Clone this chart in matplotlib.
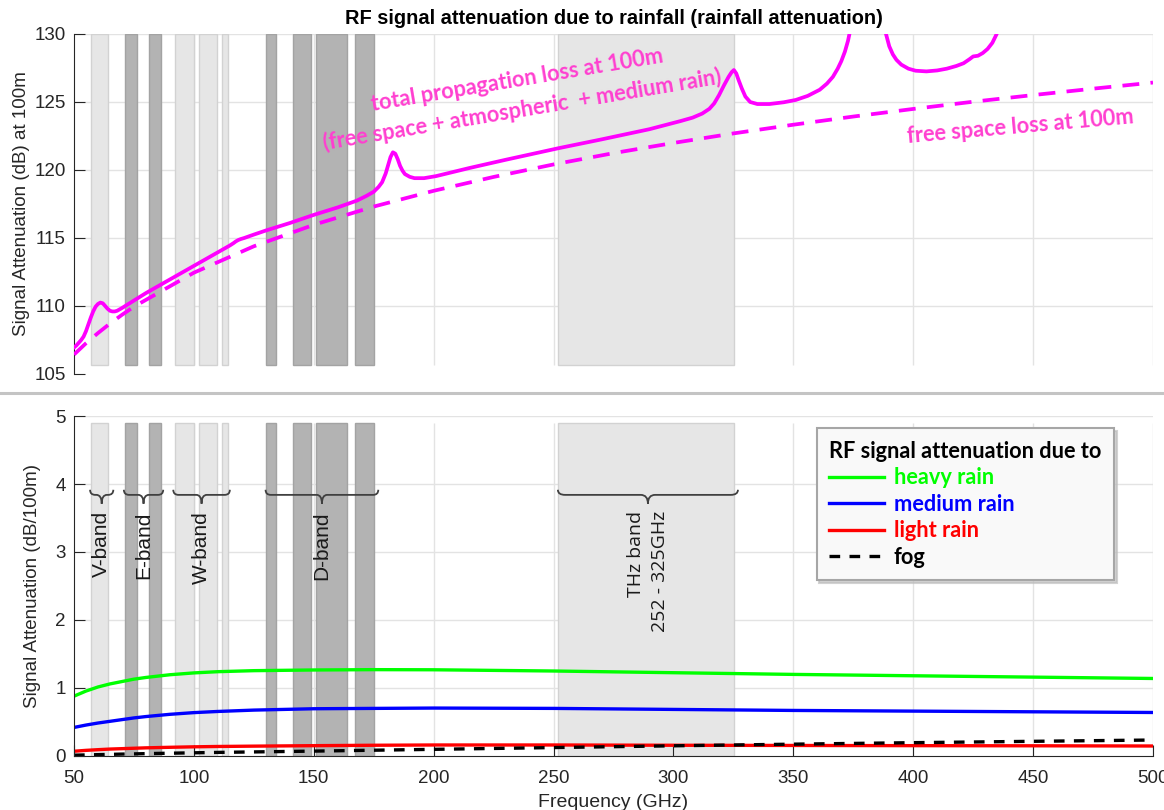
import numpy as np
import matplotlib.pyplot as plt
from matplotlib.path import Path
from matplotlib.patches import PathPatch
from matplotlib.lines import Line2D

# total propagation loss at 100 m (free space + atmospheric + medium rain)
freq_total = [50, 51, 52, 53, 54, 55, 56, 57, 58, 59, 60, 61, 62, 63, 64, 65, 66, 67, 68, 70,
              75, 80, 85, 90, 95, 100, 105, 110, 115, 116.5, 117.5, 118.5, 119.5, 121, 125,
              130, 140, 150, 160, 168, 172, 175, 177, 178.5, 180, 181, 182, 183, 184, 185,
              186, 187, 188, 190, 192, 196, 201, 215, 230, 252, 270, 290, 303, 308, 312, 315,
              317, 319, 321, 323, 324.3, 325.2, 326.2, 327.2, 328.5, 330, 332, 335, 340, 346,
              351, 356, 361, 364, 366.5, 368.5, 370, 371.5, 372.8, 374, 376, 380, 385, 387.5,
              388.8, 390, 391.5, 393, 395, 398, 401, 405.5, 410, 414, 418, 421, 423.5, 425,
              427, 429, 431, 433, 434.8, 437, 442, 448, 460, 480, 500]
loss_total = [106.95, 107.1, 107.3, 107.5, 107.75, 108.15, 108.65, 109.15, 109.6, 109.95,
              110.15, 110.25, 110.2, 110.0, 109.8, 109.65, 109.6, 109.6, 109.65, 109.85,
              110.4, 110.95, 111.45, 111.95, 112.45, 112.95, 113.45, 113.95, 114.45, 114.62,
              114.75, 114.85, 114.92, 115.0, 115.25, 115.55, 116.1, 116.7, 117.25, 117.75,
              118.1, 118.4, 118.75, 119.1, 119.75, 120.35, 120.95, 121.3, 121.2, 120.8,
              120.3, 119.95, 119.7, 119.5, 119.4, 119.4, 119.55, 120.15, 120.75, 121.6,
              122.25, 123.0, 123.6, 123.85, 124.15, 124.5, 124.9, 125.5, 126.2, 126.85,
              127.2, 127.35, 127.1, 126.6, 126.0, 125.4, 125.0, 124.85, 124.85, 124.98,
              125.15, 125.45, 125.9, 126.35, 126.85, 127.45, 128.0, 128.7, 129.5, 130.5,
              132.5, 136.0, 133.0, 130.8, 129.9, 129.1, 128.5, 128.1, 127.75, 127.45, 127.3,
              127.25, 127.32, 127.45, 127.65, 127.85, 128.15, 128.35, 128.4, 128.6, 128.9,
              129.35, 130.0, 131.5, 135.0, 142.0, 140.0, 138.0, 137.0]

# free space loss at 100 m
freq_fs = [50, 55, 60, 65, 70, 75, 100, 125, 150, 175, 200, 225, 250, 275, 300, 325, 350,
           375, 400, 425, 450, 475, 500]
loss_fs = [106.43, 107.26, 108.01, 108.71, 109.35, 109.95, 112.45, 114.39, 115.97, 117.31,
           118.47, 119.49, 120.41, 121.24, 121.99, 122.69, 123.33, 123.93, 124.49, 125.02,
           125.51, 125.98, 126.43]

# specific attenuation (dB/100m)
freq_rain = [50, 55, 60, 65, 70, 75, 80, 90, 100, 110, 125, 150, 175, 200, 250, 300, 350, 400, 450, 500]
heavy = [0.88, 0.955, 1.015, 1.06, 1.095, 1.13, 1.155, 1.195, 1.222, 1.24, 1.255, 1.265, 1.27,
         1.268, 1.25, 1.225, 1.20, 1.18, 1.16, 1.14]
medium = [0.42, 0.455, 0.485, 0.51, 0.535, 0.56, 0.58, 0.613, 0.638, 0.655, 0.675, 0.695, 0.70,
          0.705, 0.70, 0.685, 0.67, 0.66, 0.65, 0.64]
light = [0.07, 0.083, 0.093, 0.102, 0.108, 0.114, 0.12, 0.128, 0.135, 0.14, 0.145, 0.152,
         0.158, 0.162, 0.162, 0.158, 0.155, 0.152, 0.15, 0.147]
fog = [0.012, 0.016, 0.02, 0.024, 0.028, 0.031, 0.035, 0.041, 0.047, 0.053, 0.06, 0.072,
       0.085, 0.098, 0.124, 0.15, 0.174, 0.196, 0.216, 0.235]

light_bands = [(57, 64.3), (92.3, 100.2), (102.3, 109.8), (111.8, 114.4), (251.8, 325.2)]
dark_bands = [(71.1, 76.4), (81.3, 86.4), (130.2, 134.4), (141.2, 148.8), (151, 163.9), (167.2, 175.1)]
band_labels = [('V-band', 56.7, 66.4), ('E-band', 70.8, 87.2), ('W-band', 91.4, 115),
               ('D-band', 129.9, 176.9)]
thz_label = ('THz band\n252 - 325GHz', 251.8, 326.9)

W, H = 1164, 810
fig = plt.figure(figsize=(W / 100, H / 100), dpi=100)
ax1 = fig.add_axes([74 / W, 1 - 374 / H, 1079 / W, 340 / H])
ax2 = fig.add_axes([74 / W, 1 - 756 / H, 1079 / W, 340 / H])

tick_col = '#262626'
grid_col = '#e3e3e3'
xt = np.arange(50, 501, 50)
fs_tick = 13.5


def draw_bands(ax, y0, y1):
    for a, b in light_bands:
        ax.axvspan(a, b, y0, y1, facecolor='#e6e6e6', edgecolor='#d2d2d2', lw=1, zorder=1)
    for a, b in dark_bands:
        ax.axvspan(a, b, y0, y1, facecolor='#b3b3b3', edgecolor='#a3a3a3', lw=1, zorder=1)


def brace(ax, x0, x1, y, r=2.2, he=0.075, hc=0.13):
    xm = (x0 + x1) / 2
    verts = [(x0, y + he), (x0, y), (x0 + r, y), (xm - r, y), (xm, y), (xm, y - hc),
             (xm, y), (xm + r, y), (x1 - r, y), (x1, y), (x1, y + he)]
    codes = [Path.MOVETO, Path.CURVE3, Path.CURVE3, Path.LINETO, Path.CURVE3, Path.CURVE3,
             Path.CURVE3, Path.CURVE3, Path.LINETO, Path.CURVE3, Path.CURVE3]
    ax.add_patch(PathPatch(Path(verts, codes), fill=False, ec='#404040', lw=1.3, zorder=4))


# ---------- top panel ----------
ax1.set_xlim(50, 500)
ax1.set_ylim(105, 130)
for y in range(110, 131, 5):
    ax1.axhline(y, color=grid_col, lw=1, zorder=0)
ax1.vlines(xt[1:], 0.027, 1, transform=ax1.get_xaxis_transform(), color=grid_col, lw=1, zorder=0)
draw_bands(ax1, 0.027, 1)
ax1.plot(freq_fs, loss_fs, color='#ff00ff', lw=2.7, dashes=(4.5, 3), zorder=3)
ax1.plot(freq_total, loss_total, color='#ff00ff', lw=2.7, zorder=3, solid_joinstyle='round')
for s in ['top', 'right', 'bottom']:
    ax1.spines[s].set_visible(False)
ax1.spines['left'].set_color(tick_col)
ax1.set_yticks(range(105, 131, 5))
ax1.set_xticks([])
ax1.tick_params(axis='y', direction='in', length=8, pad=6, labelsize=fs_tick, colors=tick_col)
for lab in ax1.get_yticklabels():
    lab.set_family('Liberation Sans')
ax1.set_ylabel('Signal Attenuation (dB) at 100m', fontsize=13.5, family='Liberation Sans',
               color=tick_col, labelpad=3)

txt_col = '#ff3fd0'
ax1.text(234.7, 126.6, 'total propagation loss at 100m', rotation=9.5, rotation_mode='anchor',
         ha='center', va='center', color=txt_col, fontsize=15.7, family='Lato', weight='bold', zorder=5)
ax1.text(236.8, 124.4, '(free space + atmospheric  + medium rain)', rotation=9.5,
         rotation_mode='anchor', ha='center', va='center', color=txt_col, fontsize=15.7,
         family='Lato', weight='bold', zorder=5)
ax1.text(444.9, 123.2, 'free space loss at 100m', rotation=5, rotation_mode='anchor',
         ha='center', va='center', color=txt_col, fontsize=15.7, family='Lato', weight='bold', zorder=5)

# ---------- bottom panel ----------
ax2.set_xlim(50, 500)
ax2.set_ylim(0, 5)
for y in range(1, 6):
    ax2.axhline(y, color=grid_col, lw=1, zorder=0)
ax2.vlines(xt[1:], 0, 0.98, transform=ax2.get_xaxis_transform(), color=grid_col, lw=1, zorder=0)
draw_bands(ax2, 0, 0.98)
ax2.plot(freq_rain, heavy, color='#00ff00', lw=2.4, zorder=3, label='heavy rain')
ax2.plot(freq_rain, medium, color='#0000ff', lw=2.4, zorder=3, label='medium rain')
ax2.plot(freq_rain, light, color='#ff0000', lw=2.4, zorder=3, label='light rain')
ax2.plot(freq_rain, fog, color='black', lw=2.4, dashes=(3.2, 2.8), zorder=3, label='fog')
for s in ['top', 'right']:
    ax2.spines[s].set_visible(False)
for s in ['left', 'bottom']:
    ax2.spines[s].set_color(tick_col)
    ax2.spines[s].set_zorder(4)
ax2.set_xticks(xt)
ax2.set_yticks(range(0, 6))
ax2.tick_params(direction='in', length=8, labelsize=fs_tick, colors=tick_col)
ax2.tick_params(axis='y', pad=6)
ax2.tick_params(axis='x', pad=10)
for lab in ax2.get_yticklabels() + ax2.get_xticklabels():
    lab.set_family('Liberation Sans')
ax2.set_ylabel('Signal Attenuation (dB/100m)', fontsize=13.5, family='Liberation Sans',
               color=tick_col, labelpad=10)
ax2.set_xlabel('Frequency (GHz)', fontsize=14, family='Liberation Sans', color=tick_col,
               labelpad=5)

for name, a, b in band_labels:
    brace(ax2, a, b, 3.84)
    ax2.text((a + b) / 2, 3.6, name, rotation=90, ha='center', va='top', fontsize=15,
             family='Liberation Sans', color='#1a1a1a', zorder=5)
name, a, b = thz_label
brace(ax2, a, b, 3.84, r=3)
ax2.text((a + b) / 2, 3.6, name, rotation=90, ha='center', va='top', multialignment='right',
         fontsize=14, family='Open Sans', color='#1a1a1a', linespacing=1.45, zorder=5)

leg = ax2.legend(loc='upper left', bbox_to_anchor=(816.7 / W, 1 - 428.3 / H),
                 bbox_transform=fig.transFigure, borderaxespad=0, title='RF signal attenuation due to',
                 title_fontproperties={'family': 'Lato', 'weight': 'bold', 'size': 15.7},
                 prop={'family': 'Lato', 'weight': 'bold', 'size': 15.7}, labelcolor='linecolor',
                 alignment='left', handlelength=2.5, handletextpad=0.45, borderpad=0.58,
                 labelspacing=0.25, fancybox=False, framealpha=1, edgecolor='#a6a6a6',
                 facecolor='#f9f9f9', shadow={'color': '0.75', 'alpha': 0.7})
leg.get_frame().set_linewidth(1.5)
leg.set_zorder(6)

fig.text(614 / W, 1 - 18 / H, 'RF signal attenuation due to rainfall (rainfall attenuation)',
         ha='center', va='center', fontsize=14.4, weight='bold', family='Liberation Sans')
fig.add_artist(Line2D([0, 1], [1 - 393 / H, 1 - 393 / H], color='#c4c4c4', lw=2.2))

fig.savefig('out.png', dpi=100)
